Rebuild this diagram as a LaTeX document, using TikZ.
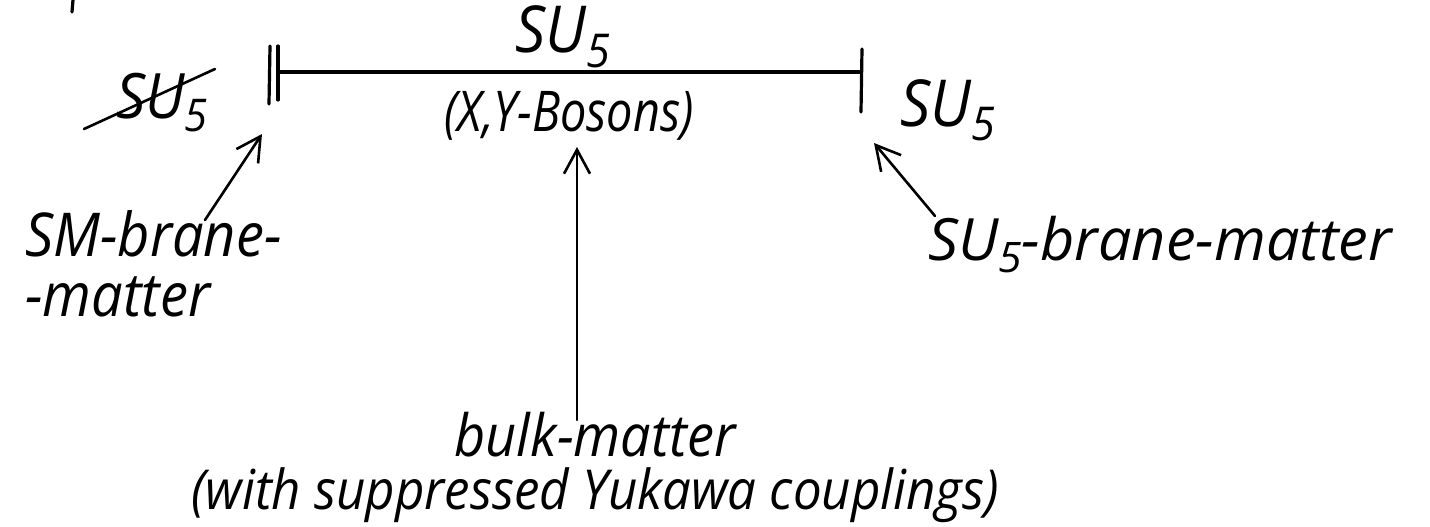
\documentclass[tikz,border=0pt]{standalone}
\usepackage{fontspec}
\setmainfont{Open Sans}
\usetikzlibrary{arrows.meta}
% subscript five in the running font
\newcommand\fivesub{\raisebox{-0.22em}{\scalebox{0.72}{5}}}
\newcommand\groupsu{SU\fivesub}
\tikzset{
  ink/.style={line width=3.2pt, line cap=round, line join=round},
  pointer/.style={ink, line width=2.6pt, -{Straight Barb[length=24pt,width=26pt,line width=2.6pt]}},
  hand/.style={font=\fontsize{#1}{#1}\selectfont\itshape, inner sep=0pt, anchor=base},
  hand/.default=54,
}
% handwriting runs a little taller than the font
\newcommand\tall[2][1]{\scalebox{#1}[1.08]{#2}}
\begin{document}
\begin{tikzpicture}[x=1pt,y=-1pt]
\useasboundingbox (0,0) rectangle (1430,527);
% stray pen stroke at the top edge
\draw[ink] (73,0) -- (72,12);

% the interval with its two end branes
\coordinate (lineL) at (278,72);
\coordinate (lineR) at (861,72);
\draw[ink, line width=3.6pt] (lineL) -- (lineR);
\draw[ink] (270,46) -- (269,104);
\draw[ink] (278,46) -- (278,100);
\draw[ink] (862,49) -- (861,112);

% group labels
\node[hand=60] (bulkgroup) at (563,53) {\tall{\groupsu}};
\node[hand=52] (bosons) at (569,131) {\tall[0.9]{(X,Y-Bosons)}};
\node[hand=58] (leftgroup) at (162,118) {\tall{\groupsu}};
\draw[ink, line width=2.6pt] (84,129) -- (215,69);
\node[hand=60] (rightgroup) at (948,126) {\tall{\groupsu}};

% matter labels
\node[hand=56, anchor=base west] (smmatter) at (25,256) {\tall{SM-brane-}};
\node[hand=56, anchor=base west] (smmatter2) at (25,316) {\tall{-matter}};
\node[hand=54, anchor=base west] (sumatter) at (928,260) {\tall[1.1]{\groupsu-brane-matter}};
\node[hand=54] (bulkmatter) at (595,456) {\tall{bulk-matter}};
\node[hand=51] (yukawa) at (595,509) {\tall{(with suppressed Yukawa couplings)}};

% pointers to where each kind of matter lives
\coordinate (smtail) at (205,220);
\coordinate (smhead) at (262,134);
\coordinate (bulktail) at (577,420);
\coordinate (bulkhead) at (577,147);
\coordinate (sutail) at (935,216);
\coordinate (suhead) at (874,143);
\draw[pointer] (smtail) -- (smhead);
\draw[pointer] (bulktail) -- (bulkhead);
\draw[pointer] (sutail) -- (suhead);
\end{tikzpicture}
\end{document}
